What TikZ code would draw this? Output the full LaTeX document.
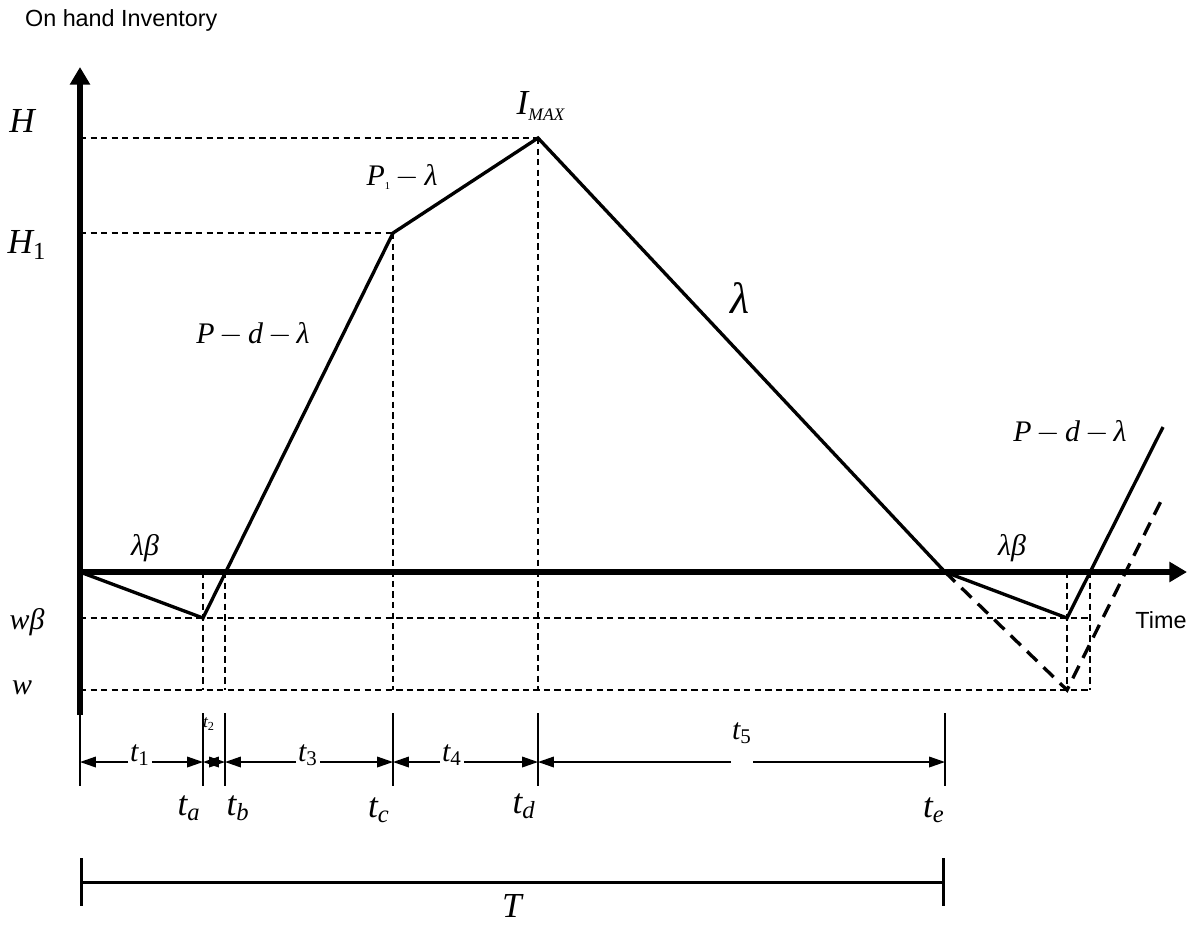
\documentclass[tikz,border=0pt]{standalone}
\usepackage{amsmath,amssymb}
\usepackage{fontspec}
\setsansfont{Liberation Sans}
\newfontfamily\tnr{Liberation Serif}
\usepackage{tikz}
\usetikzlibrary{arrows.meta,calc}

% italic variable, subscripts upright or italic
\newcommand{\mv}[1]{{\tnr\itshape #1}}
\newcommand{\lb}[2]{\mv{#1}{\tnr\textsubscript{#2}}}
\newcommand{\li}[2]{\mv{#1}\textsubscript{\mv{#2}}}
\newcommand{\mn}{\,$-$\,}

\begin{document}
\begin{tikzpicture}[
    x=0.02cm, y=-0.02cm,
    axis/.style={line width=3pt, -{Triangle[length=10pt, width=11pt]}},
    stock/.style={line width=1.9pt, line join=miter},
    guide/.style={line width=0.8pt, dash pattern=on 3.6pt off 2.4pt},
    shadow/.style={line width=1.9pt, dash pattern=on 8pt off 5pt},
    tickln/.style={line width=0.9pt},
    dim/.style={line width=0.9pt, -{Triangle[length=9pt, width=6pt]}},
    span/.style={line width=1.7pt, {Bar[width=27pt]}-{Bar[width=27pt]}},
    lbl/.style={inner sep=1pt, font=\fontsize{17}{20}\selectfont},
    biglbl/.style={inner sep=1pt, font=\fontsize{20}{24}\selectfont},
    txt/.style={inner sep=1pt, font=\sffamily\fontsize{13.3}{15}\selectfont}
  ]
  \useasboundingbox (0,0) rectangle (1196,927);

  % inventory curve points
  \coordinate (O) at (80,572);
  \coordinate (A) at (203,618);
  \coordinate (C) at (393,233);
  \coordinate (D) at (538,138);
  \coordinate (E) at (945,572);
  \coordinate (F) at (1067,618);
  \coordinate (G) at (1163,427);
  \coordinate (Fw) at (1067,690);
  \coordinate (Gw) at (1163,497);

  % axes
  \coordinate (ytop) at (80,67);
  \coordinate (ybot) at (80,715);
  \coordinate (xend) at (1187,572);
  \draw[axis] (ybot) -- (ytop);
  \draw[axis] (O) -- (xend);

  % guide lines
  \coordinate (wb) at (80,618);
  \coordinate (w) at (80,690);
  \coordinate (wbR) at (1090,618);
  \coordinate (wR) at (1090,690);
  \draw[guide] (O |- D) -- (D);
  \draw[guide] (O |- C) -- (C);
  \draw[guide] (wb) -- (wbR);
  \draw[guide] (w) -- (wR);
  \foreach \x in {203,225,1067,1090}
    \draw[guide] (\x,572) -- (\x,690);
  \draw[guide] (C) -- (C |- w);
  \draw[guide] (D) -- (D |- w);

  % inventory level
  \draw[stock] (O) -- (A) -- (C) -- (D) -- (E) -- (F) -- (G);
  \draw[shadow] (E) -- (Fw) -- (Gw);

  % axis labels
  \node[txt, anchor=west] (ylab) at (23,20) {On hand Inventory};
  \node[txt] (xlab) at (1161,620) {Time};
  \node[biglbl] (Hlab) at (22,121) {\mv{H}};
  \node[biglbl] (H1lab) at (27,245) {\lb{H}{1}};
  \node[lbl] (wblab) at (27,622) {\mv{wβ}};
  \node[lbl] (wlab) at (22,688) {\mv{w}};

  % rates
  \node[lbl] (r1) at (145,548) {\mv{λβ}};
  \node[lbl] (r2) at (253,334) {\mv{P}\mn\mv{d}\mn\mv{λ}};
  \node[lbl] (r3) at (402,177) {\mv{P}{\tnr\textsubscript{\fontsize{6}{6}\selectfont 1}}\mn\mv{λ}};
  \node[biglbl] (imax) at (541,106) {\mv{I}\textsubscript{\mv{\fontsize{10}{10}\selectfont MAX}}};
  \node[inner sep=1pt, font=\fontsize{25}{28}\selectfont] (r4) at (740,298) {\mv{λ}};
  \node[lbl] (r5) at (1012,548) {\mv{λβ}};
  \node[lbl] (r6) at (1070,432) {\mv{P}\mn\mv{d}\mn\mv{λ}};

  % time line
  \foreach \n/\x in {o/80, a/203, b/225, c/393, d/538, e/945} {
    \draw[tickln] (\x,713) -- (\x,786);
    \coordinate (m\n) at (\x,762);
  }
  \node[lbl] (t1) at (140,755) {\lb{t}{1}};
  \draw[dim] (t1.west |- mo) -- (mo);
  \draw[dim] (t1.east |- mo) -- (ma);
  \node[inner sep=1pt, font=\fontsize{10}{11}\selectfont] (t2) at (209,724) {\lb{t}{2}};
  \coordinate (mab) at (214,762);
  \draw[dim] (mab) -- (ma);
  \draw[dim] (mab) -- (mb);
  \node[lbl] (t3) at (308,755) {\lb{t}{3}};
  \draw[dim] (t3.west |- mo) -- (mb);
  \draw[dim] (t3.east |- mo) -- (mc);
  \node[lbl] (t4) at (452,755) {\lb{t}{4}};
  \draw[dim] (t4.west |- mo) -- (mc);
  \draw[dim] (t4.east |- mo) -- (md);
  \node[lbl] (t5) at (742,733) {\lb{t}{5}};
  \draw[dim] (731,762) -- (md);
  \draw[dim] (753,762) -- (me);

  \node[biglbl] (ta) at (189,808) {\li{t}{a}};
  \node[biglbl] (tb) at (238,808) {\li{t}{b}};
  \node[biglbl] (tc) at (379,810) {\li{t}{c}};
  \node[biglbl] (td) at (524,806) {\li{t}{d}};
  \node[biglbl] (te) at (934,810) {\li{t}{e}};

  % cycle length
  \coordinate (Tl) at (80,882);
  \coordinate (Tr) at (945,882);
  \draw[span] (Tl) -- (Tr);
  \node[biglbl, inner sep=0pt] (Tlab) at (512,906) {\mv{T}};
\end{tikzpicture}
\end{document}
